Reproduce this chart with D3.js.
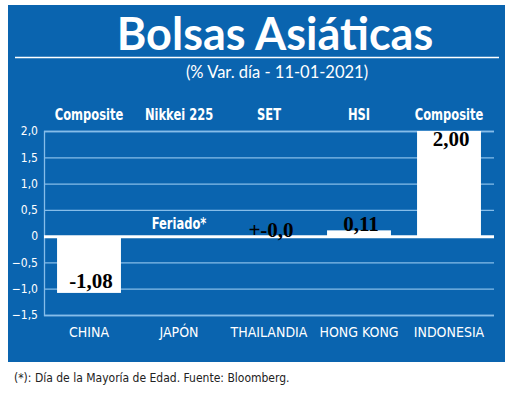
<!DOCTYPE html>
<html lang="es">
<head>
<meta charset="UTF-8" />
<script src="https://d3js.org/d3.v7.min.js"></script>
<style>
  body { margin: 0; background: #fff; }
  svg { display: block; }
  .tick text { font-family: "DejaVu Sans Condensed", "DejaVu Sans", sans-serif; font-size: 12px; fill: #fff; }
</style>
</head>
<body>
<script>
  // data
  const countries = ["CHINA", "JAPÓN", "THAILANDIA", "HONG KONG", "INDONESIA"];
  const indices = ["Composite", "Nikkei 225", "SET", "HSI", "Composite"];
  const values = [-1.08, null, 0, 0.11, 2.00];
  const valueLabels = ["-1,08", "Feriado*", "+-0,0", "0,11", "2,00"];
  const yTicks = [2, 1.5, 1, 0.5, 0, -0.5, -1, -1.5];

  const width = 520, height = 396;
  const blue = "#0a64af";
  const grid = "#86bde9";

  const svg = d3.select("body").append("svg")
    .attr("width", width)
    .attr("height", height);

  // panel
  svg.append("rect")
    .attr("x", 8).attr("y", 5)
    .attr("width", 497).attr("height", 357)
    .attr("fill", blue);

  svg.append("text")
    .attr("x", 275).attr("y", 50)
    .attr("text-anchor", "middle")
    .attr("fill", "#fff")
    .style("font-family", "Lato, sans-serif")
    .style("font-weight", "bold")
    .style("font-size", "45px")
    .text("Bolsas Asiáticas");

  svg.append("line")
    .attr("x1", 15).attr("x2", 499)
    .attr("y1", 57.5).attr("y2", 57.5)
    .attr("stroke", "#fff").attr("stroke-width", 1.5);

  svg.append("text")
    .attr("x", 277).attr("y", 78)
    .attr("text-anchor", "middle")
    .attr("fill", "#fff")
    .style("font-family", "Lato, sans-serif")
    .style("font-size", "16.5px")
    .text("(% Var. día - 11-01-2021)");

  const margin = { left: 44, right: 25, top: 131, bottom: 81 };

  const x = d3.scaleBand()
    .domain(countries)
    .range([margin.left, width - margin.right - 1])
    .paddingInner(0.29)
    .paddingOuter(0.145);

  const y = d3.scaleLinear()
    .domain([-1.5, 2])
    .range([height - margin.bottom, margin.top]);

  // grid + y axis
  const yAxis = svg.append("g")
    .attr("transform", `translate(${margin.left},0)`)
    .call(d3.axisLeft(y)
      .tickValues(yTicks)
      .tickSize(-(width - margin.right - 1 - margin.left))
      .tickPadding(6)
      .tickFormat(d => d === 0 ? "0" : d3.format(".1f")(d).replace(".", ",")));
  yAxis.select(".domain").attr("stroke", grid).attr("stroke-width", 1.3);
  yAxis.selectAll(".tick line")
    .attr("stroke", d => d === 0 ? "#fff" : grid)
    .attr("stroke-width", d => d === 0 ? 3 : 1.3);

  // bars
  const bars = countries.map((c, i) => ({ c, v: values[i], lab: valueLabels[i], idx: indices[i] }));
  const cx = d => x(d.c) + x.bandwidth() / 2;

  svg.selectAll("rect.bar")
    .data(bars.filter(d => d.v !== null && d.v !== 0))
    .join("rect")
    .attr("class", "bar")
    .attr("x", d => x(d.c))
    .attr("width", x.bandwidth())
    .attr("y", d => y(Math.max(0, d.v)))
    .attr("height", d => Math.abs(y(d.v) - y(0)))
    .attr("fill", "#fff");

  // index names above the plot (narrowed to look condensed)
  svg.selectAll("text.idx")
    .data(bars)
    .join("text")
    .attr("class", "idx")
    .attr("transform", d => `translate(${cx(d)},120) scale(0.8,1)`)
    .attr("text-anchor", "middle")
    .attr("fill", "#fff")
    .style("font-family", "'DejaVu Sans Condensed', sans-serif")
    .style("font-weight", "bold")
    .style("font-size", "16px")
    .text(d => d.idx);

  // value labels
  const valY = d => {
    if (d.v === null) return 229;
    if (d.v < 0) return y(d.v) - 5;
    if (d.v > 1) return y(d.v) + 15;
    return y(Math.max(0, d.v)) + 1;
  };
  svg.selectAll("text.val")
    .data(bars)
    .join("text")
    .attr("class", "val")
    .attr("transform", d => d.v === null
      ? `translate(${cx(d)},${valY(d)}) scale(0.8,1)`
      : `translate(${cx(d) + 2},${valY(d)})`)
    .attr("text-anchor", "middle")
    .attr("fill", d => d.v === null ? "#fff" : "#000")
    .style("font-family", d => d.v === null ? "'DejaVu Sans Condensed', sans-serif" : "'Liberation Serif', serif")
    .style("font-weight", "bold")
    .style("font-size", d => d.v === null ? "16px" : "21px")
    .text(d => d.lab);

  // country labels
  svg.selectAll("text.cty")
    .data(countries)
    .join("text")
    .attr("class", "cty")
    .attr("x", d => x(d) + x.bandwidth() / 2)
    .attr("y", 337)
    .attr("text-anchor", "middle")
    .attr("fill", "#fff")
    .style("font-family", "'DejaVu Sans Condensed', sans-serif")
    .style("font-size", "14px")
    .text(d => d);

  svg.append("text")
    .attr("x", 14).attr("y", 382)
    .attr("fill", "#222")
    .style("font-family", "'DejaVu Sans Condensed', sans-serif")
    .style("font-size", "12px")
    .text("(*): Día de la Mayoría de Edad. Fuente: Bloomberg.");
</script>
</body>
</html>
